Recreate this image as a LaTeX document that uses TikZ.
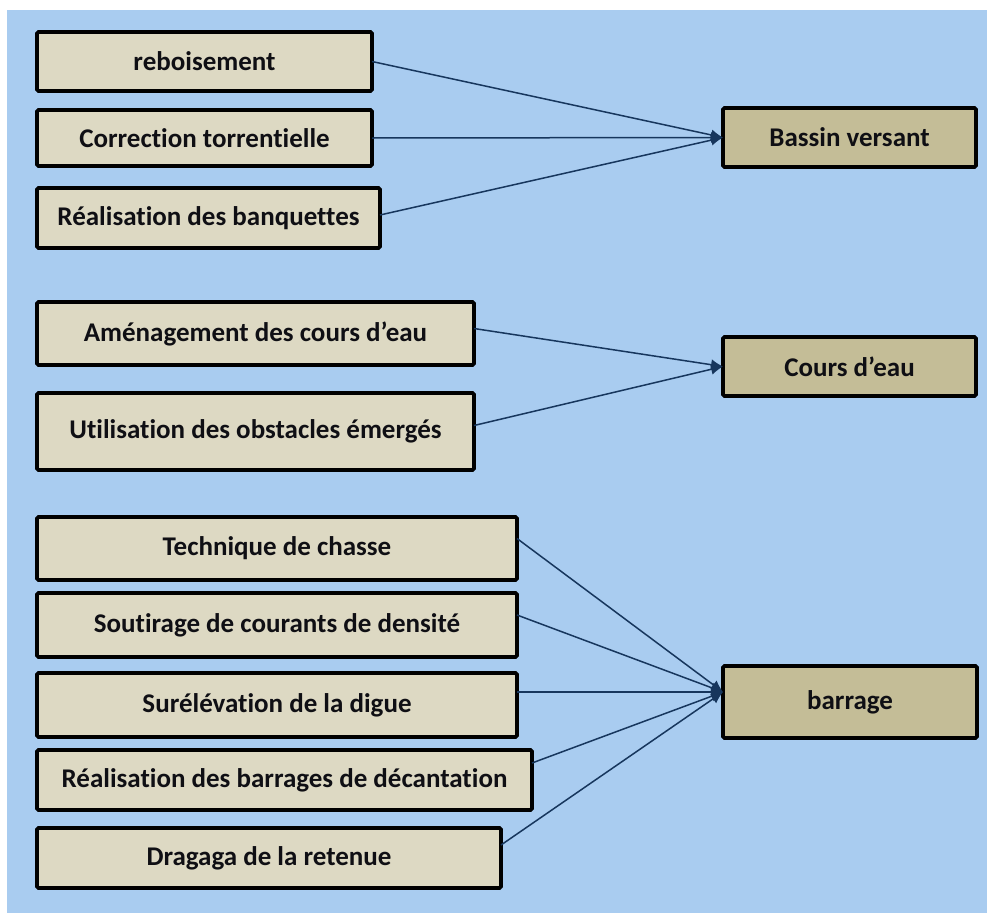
\documentclass[tikz,border=0pt]{standalone}
\usepackage{fontspec}
\setmainfont{Carlito}[Ligatures=NoCommon]
\usetikzlibrary{arrows.meta}
\definecolor{bgblue}{RGB}{169,204,240}
\definecolor{lighttan}{RGB}{221,217,195}
\definecolor{darktan}{RGB}{196,189,151}
\definecolor{navy}{RGB}{23,54,93}
\definecolor{txt}{RGB}{15,15,20}
\tikzset{
  box/.style={draw=black, line width=3.6pt, rounded corners=1.5pt, inner sep=0pt, outer sep=0pt,
    font=\fontsize{27}{31}\selectfont\bfseries, text=txt, align=center},
  srcbox/.style={box, fill=lighttan},
  dstbox/.style={box, fill=darktan},
  conn/.style={draw=navy, line width=1.5pt, -{Latex[length=12pt,width=11pt]}}
}
\begin{document}
\begin{tikzpicture}[x=1pt,y=-1pt]
\useasboundingbox (0,0) rectangle (987,913);
\fill[white] (0,0) rectangle (987,913);
\fill[bgblue] (7,10) rectangle (987,913);
% group 1
\node[srcbox, minimum width=335pt, minimum height=59pt] (reb) at (204.5,61.5) {reboisement};
\node[srcbox, minimum width=335pt, minimum height=56pt] (cor) at (204.5,138) {Correction torrentielle};
\node[srcbox, minimum width=343pt, minimum height=60pt] (ban) at (208.5,218) {Réalisation des banquettes};
\node[dstbox, minimum width=253pt, minimum height=59pt] (bv) at (849.5,137.5) {Bassin versant};
% group 2
\node[srcbox, minimum width=437pt, minimum height=63pt] (ame) at (255.5,333.5) {Aménagement des cours d’eau};
\node[srcbox, minimum width=437pt, minimum height=77pt] (uti) at (255.5,431.5) {Utilisation des obstacles émergés};
\node[dstbox, minimum width=253pt, minimum height=59pt] (cde) at (849.5,366.5) {Cours d’eau};
% group 3
\node[srcbox, minimum width=480pt, minimum height=63pt] (tec) at (277,548.5) {Technique de chasse};
\node[srcbox, minimum width=480pt, minimum height=64pt] (sou) at (277,625) {Soutirage de courants de densité};
\node[srcbox, minimum width=480pt, minimum height=64pt] (sur) at (277,705) {Surélévation de la digue};
\node[srcbox, minimum width=495pt, minimum height=60pt] (bar) at (284.5,780) {Réalisation des barrages de décantation};
\node[srcbox, minimum width=464pt, minimum height=60pt] (dra) at (269,858) {Dragaga de la retenue};
\node[dstbox, minimum width=254pt, minimum height=72pt] (brg) at (850,702) {barrage};
\coordinate (brgtip) at ([yshift=10pt]brg.west);
% connectors
\draw[conn] (reb.east) -- (bv.west);
\draw[conn] (cor.east) -- (bv.west);
\draw[conn] ([yshift=3pt]ban.east) -- (bv.west);
\draw[conn] ([yshift=5pt]ame.east) -- (cde.west);
\draw[conn] ([yshift=6pt]uti.east) -- (cde.west);
\draw[conn] ([yshift=10pt]tec.east) -- (brgtip);
\draw[conn] ([yshift=10pt]sou.east) -- (brgtip);
\draw[conn] ([yshift=13pt]sur.east) -- (brgtip);
\draw[conn] ([yshift=17pt]bar.east) -- (brgtip);
\draw[conn] ([yshift=13pt]dra.east) -- (brgtip);
\end{tikzpicture}
\end{document}
